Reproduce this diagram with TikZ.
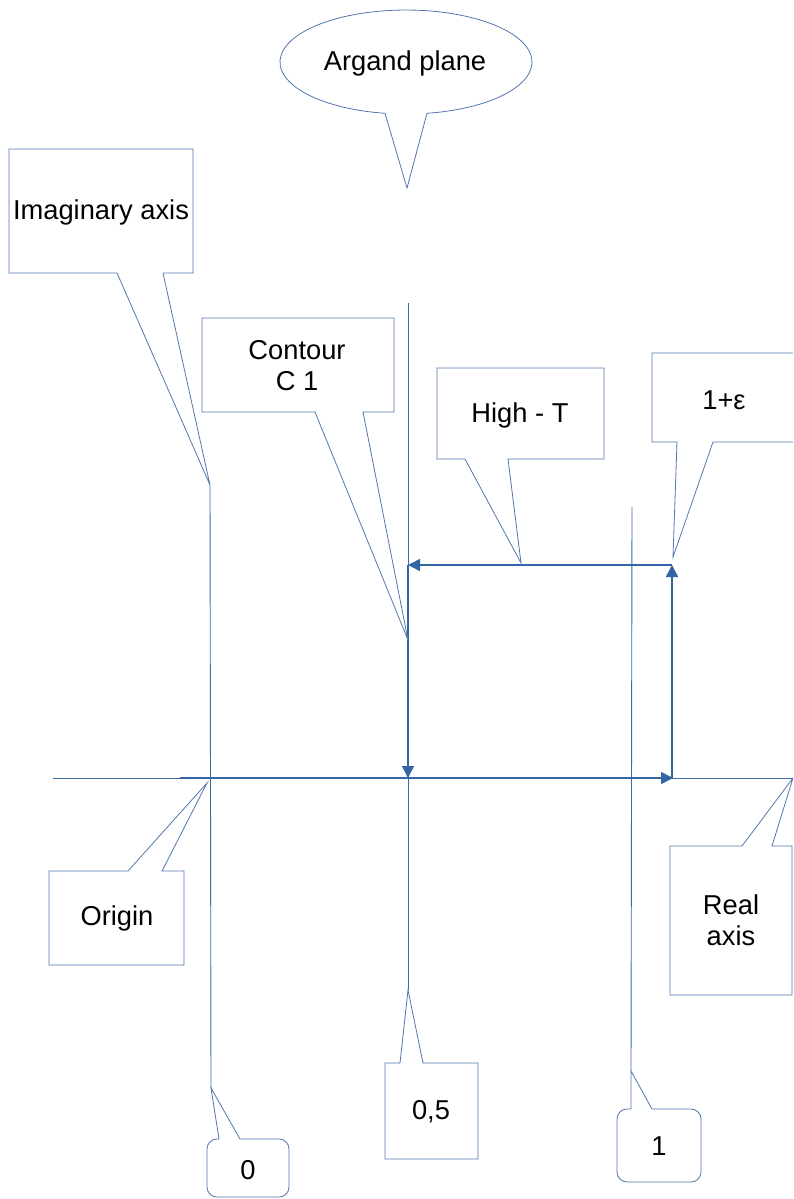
\documentclass[tikz,border=0pt]{standalone}
\usepackage{fontspec}
\setmainfont{Liberation Sans}
\usetikzlibrary{arrows.meta}
\definecolor{lineblue}{RGB}{62,106,168}
\definecolor{boxblue}{RGB}{84,118,172}
\definecolor{arrowblue}{RGB}{52,101,164}
\tikzset{
  axisline/.style={draw=lineblue, line width=0.9pt},
  calloutshape/.style={draw=boxblue, line width=0.8pt, fill=white, line join=miter},
  txt/.style={font=\fontsize{27.3}{31}\selectfont, align=center, inner sep=0pt, text=black},
  patharrow/.style={draw=arrowblue, line width=1.6pt, -{Triangle[length=12pt,width=12pt]}},
}
\begin{document}
\begin{tikzpicture}[x=1pt,y=-1pt]
\useasboundingbox (0,0) rectangle (793,1199);
\clip (0,0) rectangle (793,1199);
% key points
\coordinate (imTop) at (210,485);
\coordinate (imBot) at (211,1088);
\coordinate (midTop) at (408,303);
\coordinate (midBot) at (408,990);
\coordinate (oneTop) at (632,507);
\coordinate (oneBot) at (631,1071);
\coordinate (reL) at (53,778);
\coordinate (reR) at (793,778);
\coordinate (pA) at (180,778);
\coordinate (pB) at (673,778);
\coordinate (pC) at (672,565);
\coordinate (pD) at (408,565);
\coordinate (pE) at (408,778);
\coordinate (ctTip) at (408,640);
\coordinate (htTip) at (521,563);
\coordinate (epsTip) at (673,557);
\coordinate (orTip) at (207,783);
\coordinate (argTip) at (407,188);
% axes
\draw[axisline] (reL) -- (reR);
\draw[axisline] (imTop) -- (imBot);
\draw[axisline] (midTop) -- (midBot);
\draw[axisline] (oneTop) -- (oneBot);
% contour
\draw[patharrow] (pA) -- (pB);
\draw[patharrow] (672,778) -- (pC);
\draw[patharrow] (pC) -- (pD);
\draw[patharrow] (pD) -- (pE);
% Argand plane callout
\draw[calloutshape] (427,113.3) arc[start angle=-80.4, end angle=260.4, x radius=126pt, y radius=52pt] -- (argTip) -- cycle;
\node[txt] (argand) at (405,63) {Argand plane};
% Imaginary axis
\draw[calloutshape] (9,149) -- (193,149) -- (193,273) -- (163,273) -- (imTop) -- (117,273) -- (9,273) -- cycle;
\node[txt] (imag) at (101,212) {Imaginary axis};
% Contour C 1
\draw[calloutshape] (202,318) -- (394,318) -- (394,412) -- (363,412) -- (ctTip) -- (315,412) -- (202,412) -- cycle;
\node[txt] (contour) at (297,366) {Contour\\C 1};
% High - T
\draw[calloutshape] (437,368) -- (604,368) -- (604,459) -- (508,459) -- (htTip) -- (465,459) -- (437,459) -- cycle;
\node[txt] (hight) at (520,415) {High - T};
% 1+eps
\draw[calloutshape] (652,353) -- (830,353) -- (830,442) -- (713,442) -- (epsTip) -- (677,442) -- (652,442) -- cycle;
\node[txt] (eps) at (724,400) {1+ε};
% Origin
\draw[calloutshape] (49,871) -- (128,871) -- (orTip) -- (162,871) -- (184,871) -- (184,965) -- (49,965) -- cycle;
\node[txt] (origin) at (117,918) {Origin};
% Real axis
\draw[calloutshape] (670,846) -- (742,846) -- (reR) -- (772,846) -- (792,846) -- (792,995) -- (670,995) -- cycle;
\node[txt] (real) at (731,920) {Real\\axis};
% 0
\draw[calloutshape] (imBot) -- (240,1139) [rounded corners=10pt] -- (289,1139) -- (289,1197) -- (207,1197) -- (207,1139) [sharp corners] -- (219,1139) -- cycle;
\node[txt] (zero) at (248,1170) {0};
% 0,5
\draw[calloutshape] (385,1063) -- (400,1063) -- (midBot) -- (423,1063) -- (478,1063) -- (478,1159) -- (385,1159) -- cycle;
\node[txt] (half) at (431,1112) {0,5};
% 1
\draw[calloutshape] (oneBot) -- (652,1109) [rounded corners=10pt] -- (701,1109) -- (701,1182) -- (617,1182) -- (617,1109) [sharp corners] -- (631,1109) -- cycle;
\node[txt] (one) at (659,1146) {1};
\end{tikzpicture}
\end{document}
